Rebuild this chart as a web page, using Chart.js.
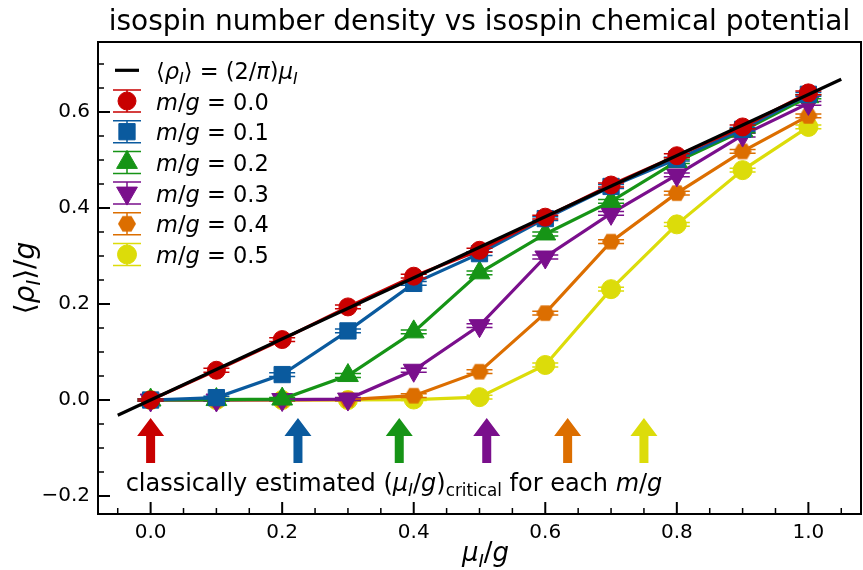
<!DOCTYPE html>
<html>
<head>
<meta charset="utf-8">
<script src="https://cdn.jsdelivr.net/npm/chart.js@4.4.1/dist/chart.umd.min.js"></script>
<style>
  html, body { margin: 0; padding: 0; background: #fff; }
  #wrap { width: 863px; height: 570px; }
</style>
</head>
<body>
<div id="wrap"><canvas id="chart" width="863" height="570"></canvas></div>
<script>
'use strict';

Chart.defaults.font.family = "'DejaVu Sans', sans-serif";
Chart.defaults.color = '#000';

// isospin chemical potential mu_I/g
const MU = [0.0, 0.1, 0.2, 0.3, 0.4, 0.5, 0.6, 0.7, 0.8, 0.9, 1.0];

// <rho_I>/g for each m/g
const RHO_M00 = [0.000, 0.062, 0.126, 0.194, 0.258, 0.312, 0.381, 0.448, 0.509, 0.569, 0.640];
const RHO_M01 = [0.000, 0.005, 0.053, 0.144, 0.243, 0.305, 0.378, 0.445, 0.502, 0.564, 0.637];
const RHO_M02 = [0.000, 0.001, 0.002, 0.051, 0.142, 0.265, 0.346, 0.414, 0.497, 0.561, 0.632];
const RHO_M03 = [0.000, 0.000, 0.001, 0.002, 0.062, 0.155, 0.298, 0.389, 0.469, 0.552, 0.618];
const RHO_M04 = [0.000, 0.000, 0.000, 0.001, 0.009, 0.059, 0.181, 0.330, 0.431, 0.518, 0.592];
const RHO_M05 = [0.000, 0.000, 0.000, 0.000, 0.001, 0.006, 0.073, 0.231, 0.366, 0.479, 0.569];

// statistical errors
const ERR_M00 = [0.002, 0.004, 0.004, 0.004, 0.004, 0.004, 0.004, 0.004, 0.004, 0.004, 0.004];
const ERR_M01 = [0.002, 0.003, 0.004, 0.004, 0.004, 0.004, 0.004, 0.004, 0.004, 0.004, 0.004];
const ERR_M02 = [0.002, 0.002, 0.003, 0.004, 0.004, 0.004, 0.004, 0.004, 0.004, 0.004, 0.004];
const ERR_M03 = [0.002, 0.002, 0.002, 0.003, 0.004, 0.004, 0.004, 0.004, 0.004, 0.004, 0.004];
const ERR_M04 = [0.002, 0.002, 0.002, 0.002, 0.004, 0.004, 0.004, 0.004, 0.004, 0.004, 0.004];
const ERR_M05 = [0.002, 0.002, 0.002, 0.002, 0.002, 0.004, 0.004, 0.004, 0.004, 0.004, 0.004];

const MASSES = ['0.0', '0.1', '0.2', '0.3', '0.4', '0.5'];
const SERIES = [RHO_M00, RHO_M01, RHO_M02, RHO_M03, RHO_M04, RHO_M05];
const ERRORS = [ERR_M00, ERR_M01, ERR_M02, ERR_M03, ERR_M04, ERR_M05];
const COLORS = ['#c80000', '#0a5a9e', '#169416', '#7a0f8c', '#dc6e00', '#dcdc0a'];

// free massless result <rho_I> = (2/pi) mu_I
const FREE_MU  = [-0.05, 1.05];
const FREE_RHO = [-0.0318, 0.6685];

// classical estimate of the critical mu_I/g, one per m/g
const ARROW_MU = [0.000, 0.224, 0.378, 0.511, 0.634, 0.750];
const ARROW_TIP = -0.0375;
const ARROW_BASE = -0.131;

const X_TICKS = [0.0, 0.2, 0.4, 0.6, 0.8, 1.0];
const X_MINOR = [-0.05, 0.05, 0.1, 0.15, 0.25, 0.3, 0.35, 0.45, 0.5, 0.55, 0.65, 0.7, 0.75, 0.85, 0.9, 0.95, 1.05];
const Y_TICKS = [-0.2, 0.0, 0.2, 0.4, 0.6];
const Y_MINOR = [-0.15, -0.1, -0.05, 0.05, 0.1, 0.15, 0.25, 0.3, 0.35, 0.45, 0.5, 0.55, 0.65, 0.7];

const CAP = 13;

function hexSprite(color, r) {
    const c = document.createElement('canvas');
    const s = Math.ceil(r * 2 + 2);
    c.width = c.height = s;
    const g = c.getContext('2d');
    g.fillStyle = color;
    g.beginPath();
    for (let k = 0; k < 6; k++) {
        const a = Math.PI / 3 * k;
        g.lineTo(s / 2 + r * Math.cos(a), s / 2 + r * Math.sin(a));
    }
    g.closePath();
    g.fill();
    return c;
}

const MARKERS = [
    { pointStyle: 'circle',   radius: 9,    rotation: 0 },
    { pointStyle: 'rect',     radius: 11.5, rotation: 0 },
    { pointStyle: 'triangle', radius: 12,   rotation: 0 },
    { pointStyle: 'triangle', radius: 12,   rotation: 180 },
    { pointStyle: hexSprite(COLORS[4], 9), radius: 9, rotation: 0 },
    { pointStyle: 'circle',   radius: 9.5,  rotation: 0 },
];

const fmt = v => (v < 0 ? '\u2212' : '') + Math.abs(v).toFixed(1);

// text with italic / subscript runs, mathtext style
function fontFor(st, size) {
    const sub = st === 'si' || st === 'sr';
    const it = st === 'i' || st === 'si';
    return (it ? 'italic ' : '') + (sub ? size * 0.7 : size) + "px 'DejaVu Sans'";
}
function richWidth(ctx, parts, size) {
    let w = 0;
    parts.forEach(([t, st]) => {
        ctx.font = fontFor(st, size);
        w += ctx.measureText(t).width;
    });
    return w;
}
function drawRich(ctx, parts, x, y, size, align) {
    let cx = align === 'center' ? x - richWidth(ctx, parts, size) / 2 : x;
    ctx.textAlign = 'left';
    ctx.textBaseline = 'alphabetic';
    parts.forEach(([t, st]) => {
        ctx.font = fontFor(st, size);
        const dy = (st === 'si' || st === 'sr') ? size * 0.22 : 0;
        ctx.fillText(t, cx, y + dy);
        cx += ctx.measureText(t).width;
    });
}

const datasets = [{
    label: 'free',
    data: FREE_MU.map((m, k) => ({ x: m, y: FREE_RHO[k] })),
    borderColor: '#000',
    borderWidth: 3.2,
    pointRadius: 0,
}];
SERIES.forEach((vals, i) => {
    datasets.push({
        label: 'm/g = ' + MASSES[i],
        data: MU.map((m, k) => ({ x: m, y: vals[k] })),
        errors: ERRORS[i],
        borderColor: COLORS[i],
        backgroundColor: COLORS[i],
        borderWidth: 3.2,
        pointStyle: MARKERS[i].pointStyle,
        pointRadius: MARKERS[i].radius,
        pointRotation: MARKERS[i].rotation,
        pointBorderWidth: 1,
        pointBackgroundColor: COLORS[i],
        pointBorderColor: COLORS[i],
    });
});

const errorBars = {
    id: 'errorBars',
    beforeDatasetDraw(chart, args) {
        const ds = chart.data.datasets[args.index];
        if (!ds.errors) return;
        const { ctx, scales: { x, y } } = chart;
        ctx.save();
        ctx.strokeStyle = ds.borderColor;
        ctx.lineWidth = 1.5;
        ds.data.forEach((p, k) => {
            const px = x.getPixelForValue(p.x);
            const top = y.getPixelForValue(p.y + ds.errors[k]);
            const bot = y.getPixelForValue(p.y - ds.errors[k]);
            ctx.beginPath();
            ctx.moveTo(px, top); ctx.lineTo(px, bot);
            ctx.moveTo(px - CAP, top); ctx.lineTo(px + CAP, top);
            ctx.moveTo(px - CAP, bot); ctx.lineTo(px + CAP, bot);
            ctx.stroke();
        });
        ctx.restore();
    }
};

const decorations = {
    id: 'decorations',
    afterDatasetsDraw(chart) {
        const { ctx, chartArea: a, scales: { x, y } } = chart;
        ctx.save();

        // critical point arrows
        ARROW_MU.forEach((m, i) => {
            const px = x.getPixelForValue(m);
            const tip = y.getPixelForValue(ARROW_TIP);
            const base = y.getPixelForValue(ARROW_BASE);
            const hw = 13.5, sw = 4.5, hl = 18;
            ctx.fillStyle = COLORS[i];
            ctx.beginPath();
            ctx.moveTo(px, tip);
            ctx.lineTo(px + hw, tip + hl);
            ctx.lineTo(px + sw, tip + hl);
            ctx.lineTo(px + sw, base);
            ctx.lineTo(px - sw, base);
            ctx.lineTo(px - sw, tip + hl);
            ctx.lineTo(px - hw, tip + hl);
            ctx.closePath();
            ctx.fill();
        });

        ctx.fillStyle = '#000';
        drawRich(ctx, [['classically estimated (', ''], ['\u03bc', 'i'], ['I', 'si'], ['/', ''], ['g', 'i'],
                       [')', ''], ['critical', 'sr'], [' for each ', ''], ['m', 'i'], ['/', ''], ['g', 'i']],
                 x.getPixelForValue(-0.038), y.getPixelForValue(-0.189), 24, 'left');

        // frame and inward ticks
        ctx.strokeStyle = '#000';
        ctx.lineWidth = 2;
        ctx.strokeRect(a.left, a.top, a.right - a.left, a.bottom - a.top);
        ctx.beginPath();
        X_TICKS.forEach(v => { const p = x.getPixelForValue(v); ctx.moveTo(p, a.bottom); ctx.lineTo(p, a.bottom - 12); });
        Y_TICKS.forEach(v => { const p = y.getPixelForValue(v); ctx.moveTo(a.left, p); ctx.lineTo(a.left + 12, p); });
        ctx.stroke();
        ctx.lineWidth = 1.5;
        ctx.beginPath();
        X_MINOR.forEach(v => { const p = x.getPixelForValue(v); ctx.moveTo(p, a.bottom); ctx.lineTo(p, a.bottom - 6); });
        Y_MINOR.forEach(v => { const p = y.getPixelForValue(v); ctx.moveTo(a.left, p); ctx.lineTo(a.left + 6, p); });
        ctx.stroke();

        // title and axis labels
        const cx = (a.left + a.right) / 2;
        ctx.fillStyle = '#000';
        drawRich(ctx, [['isospin number density vs isospin chemical potential', '']], cx, 30, 28, 'center');
        drawRich(ctx, [['\u03bc', 'i'], ['I', 'si'], ['/', ''], ['g', 'i']], cx + 6, 561, 26, 'center');
        ctx.save();
        ctx.translate(34, (a.top + a.bottom) / 2);
        ctx.rotate(-Math.PI / 2);
        drawRich(ctx, [['\u27e8', ''], ['\u03c1', 'i'], ['I', 'si'], ['\u27e9/', ''], ['g', 'i']], 0, 0, 28, 'center');
        ctx.restore();

        // legend
        const lx = 127, ty = 101, step = 30.7, tx = 156, fs = 22.5;
        ctx.strokeStyle = '#000';
        ctx.lineWidth = 3.2;
        ctx.beginPath();
        ctx.moveTo(lx - 12, ty - step); ctx.lineTo(lx + 12, ty - step);
        ctx.stroke();
        drawRich(ctx, [['\u27e8', ''], ['\u03c1', 'i'], ['I', 'si'], ['\u27e9 = (2/', ''], ['\u03c0', 'i'], [')', ''], ['\u03bc', 'i'], ['I', 'si']],
                 tx, ty - step + 8.5, fs, 'left');
        MASSES.forEach((mg, i) => {
            const cy = ty + step * i;
            ctx.strokeStyle = COLORS[i];
            ctx.fillStyle = COLORS[i];
            ctx.lineWidth = 1.5;
            ctx.beginPath();
            ctx.moveTo(lx, cy - 11); ctx.lineTo(lx, cy + 11);
            ctx.moveTo(lx - 14, cy - 11); ctx.lineTo(lx + 14, cy - 11);
            ctx.moveTo(lx - 14, cy + 11); ctx.lineTo(lx + 14, cy + 11);
            ctx.stroke();
            ctx.lineWidth = 1;
            Chart.helpers.drawPoint(ctx, { pointStyle: MARKERS[i].pointStyle, radius: MARKERS[i].radius,
                                           rotation: MARKERS[i].rotation, borderWidth: 1 }, lx, cy);
            ctx.fillStyle = '#000';
            drawRich(ctx, [['m', 'i'], ['/', ''], ['g', 'i'], [' = ' + mg, '']], tx, cy + 8.5, fs, 'left');
        });
        ctx.restore();
    }
};

new Chart(document.getElementById('chart'), {
    type: 'line',
    data: { datasets },
    options: {
        responsive: false,
        animation: false,
        devicePixelRatio: 1,
        layout: { autoPadding: false, padding: { top: 42, right: 2, left: 0, bottom: 0 } },
        plugins: { legend: { display: false }, tooltip: { enabled: false } },
        scales: {
            x: {
                type: 'linear', min: -0.08, max: 1.08,
                afterBuildTicks: s => { s.ticks = X_TICKS.map(v => ({ value: v })); },
                afterFit: s => { s.height = 56; s.paddingLeft = 0; s.paddingRight = 0; },
                grid: { display: false, drawTicks: false },
                border: { display: false },
                ticks: { padding: 7, autoSkip: false, maxRotation: 0, font: { size: 20 }, callback: fmt },
            },
            y: {
                type: 'linear', min: -0.2375, max: 0.746,
                afterBuildTicks: s => { s.ticks = Y_TICKS.map(v => ({ value: v })); },
                afterFit: s => { s.width = 98; s.paddingTop = 0; s.paddingBottom = 0; },
                grid: { display: false, drawTicks: false },
                border: { display: false },
                ticks: { padding: 8, autoSkip: false, font: { size: 20 }, callback: fmt },
            },
        },
    },
    plugins: [errorBars, decorations],
});
</script>
</body>
</html>
